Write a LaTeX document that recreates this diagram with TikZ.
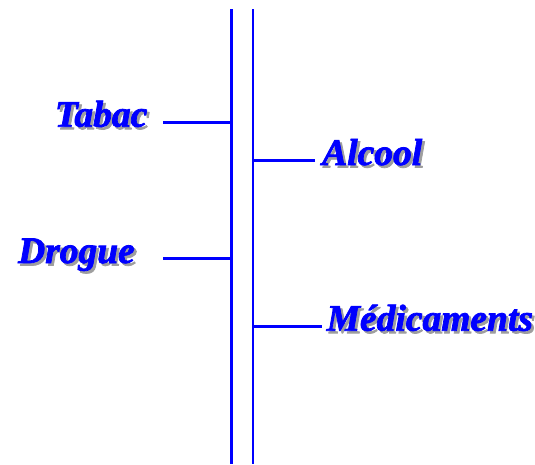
\documentclass[tikz,border=0pt]{standalone}
\usepackage{fontspec}
\setmainfont{Liberation Serif}[BoldItalicFeatures={FakeBold=2}]
\newcommand\shadowtext[1]{\makebox[0pt][l]{\kern2.5pt\raisebox{-2.5pt}{\textcolor{black!38}{#1}}}#1}
\begin{document}
\begin{tikzpicture}[x=1pt,y=-1pt,
 lbl/.style={inner sep=0pt, font=\fontsize{37.5}{40}\selectfont\bfseries\itshape, text=blue},
 bar/.style={draw=blue, line width=2.8pt},
]
\useasboundingbox (0,0) rectangle (535,464);
\fill[white] (0,0) rectangle (535,464);
% vertical bars
\coordinate (Ltop) at (231.5,9);
\coordinate (Lbot) at (231.5,464);
\coordinate (Rtop) at (253,9);
\coordinate (Rbot) at (253,464);
\draw[bar] (Ltop) -- (Lbot);
\draw[bar] (Rtop) -- (Rbot);
% labels
\node[lbl, anchor=base east] (tabac) at (147.5,126.7) {\shadowtext{Tabac}};
\node[lbl, anchor=base east] (drogue) at (135,263) {\shadowtext{Drogue}};
\node[lbl, anchor=base west] (alcool) at (322,165) {\shadowtext{Alcool}};
\node[lbl, anchor=base west] (med) at (326.5,330.7) {\shadowtext{Médicaments}};
% connectors
\coordinate (tabacEnd) at (163,122.5);
\coordinate (drogueEnd) at (163,258.3);
\coordinate (alcoolEnd) at (315,160.3);
\coordinate (medEnd) at (321.5,326.5);
\draw[bar] (tabacEnd) -- (tabacEnd -| Ltop);
\draw[bar] (drogueEnd) -- (drogueEnd -| Ltop);
\draw[bar] (alcoolEnd) -- (alcoolEnd -| Rtop);
\draw[bar] (medEnd) -- (medEnd -| Rtop);
\end{tikzpicture}
\end{document}
